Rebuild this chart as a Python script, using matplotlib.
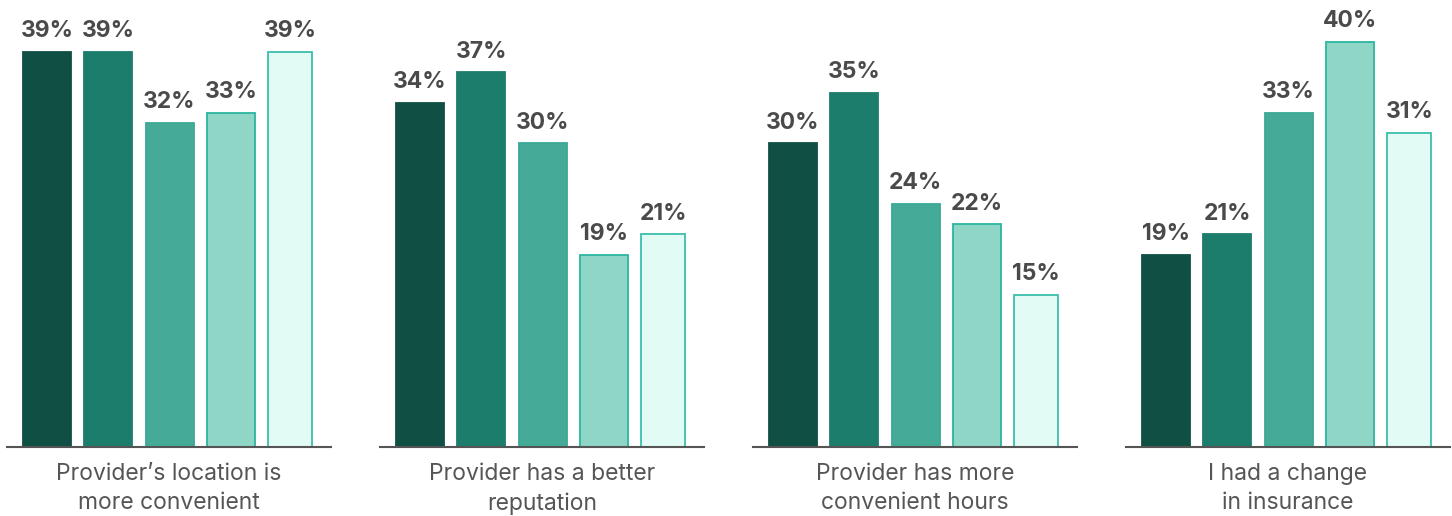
import matplotlib
matplotlib.use("Agg")
from matplotlib import pyplot as plt

categories = [
    "Provider\u2019s location is\nmore convenient",
    "Provider has a better\nreputation",
    "Provider has more\nconvenient hours",
    "I had a change\nin insurance",
]
values = [
    [39, 39, 32, 33, 39],
    [34, 37, 30, 19, 21],
    [30, 35, 24, 22, 15],
    [19, 21, 33, 40, 31],
]

fill_colors = ["#0f4f44", "#1d7d6d", "#45ab98", "#8fd6c7", "#e3fbf5"]
edge_colors = ["#0f4f44", "#1d7d6d", "#3aa996", "#2bb5a0", "#3cbfad"]
# last bar in each group is drawn a touch narrower
bar_widths = [0.78, 0.78, 0.78, 0.78, 0.715]

plt.rcParams["font.family"] = ["Inter", "DejaVu Sans"]

W, H = 1452, 516
fig = plt.figure(figsize=(W / 100, H / 100), dpi=100)

panel_left = 7
panel_width = 324
panel_step = 373
base_y = 447  # baseline, pixels from top
px_per_pct = 10.125
y_max = 44

for i, (cat, vals) in enumerate(zip(categories, values)):
    left = panel_left + i * panel_step
    height = y_max * px_per_pct
    ax = fig.add_axes([left / W, (H - base_y) / H, panel_width / W, height / H])
    lefts = [k - 0.39 for k in range(len(vals))]
    ax.bar(lefts, vals, width=bar_widths, align="edge", color=fill_colors,
           edgecolor=edge_colors, linewidth=1.3)
    for x0, w, v in zip(lefts, bar_widths, vals):
        ax.annotate(f"{v}%", (x0 + w / 2, v), xytext=(0, 7), textcoords="offset points",
                    ha="center", va="bottom", fontsize=16.5, fontweight="bold",
                    color="#4a4a4a")
    ax.set_xlim(-0.65, 4.63)
    ax.set_ylim(0, y_max)
    for side in ["top", "right", "left"]:
        ax.spines[side].set_visible(False)
    ax.spines["bottom"].set_color("#555555")
    ax.spines["bottom"].set_linewidth(1.5)
    ax.set_yticks([])
    ax.set_xticks([])
    ax.text(0.5, -0.036, cat, transform=ax.transAxes, ha="center", va="top",
            fontsize=16.5, color="#555555", linespacing=1.42)

fig.savefig("out.png", dpi=100)
